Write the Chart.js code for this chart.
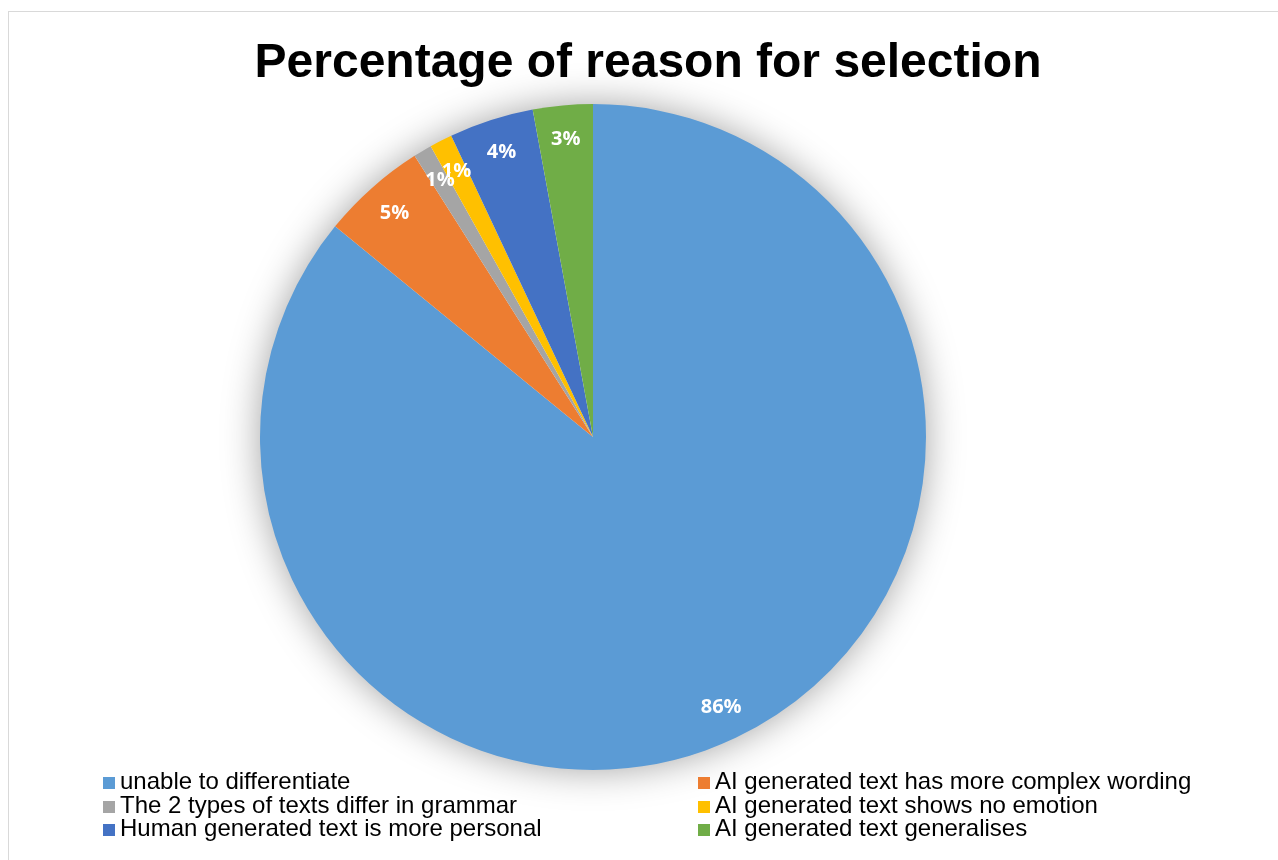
<!DOCTYPE html>
<html lang="en">
<head>
    <meta charset="UTF-8">
    <title>Percentage of reason for selection</title>
    <script src="https://cdn.jsdelivr.net/npm/chart.js"></script>
    <style>
        html, body { margin: 0; padding: 0; background: #fff; overflow: hidden; width: 1278px; height: 860px; }
        #frame { position: absolute; left: 8px; top: 11px; width: 1300px; height: 900px; border: 1px solid #d9d9d9; }
        #chart { position: absolute; left: 9px; top: 11px; }
    </style>
</head>
<body>
    <div id="frame"></div>
    <canvas id="chart" width="1278" height="860"></canvas>
    <script>
        const chartTitle = 'Percentage of reason for selection';
        const reasons = [
            'unable to differentiate',
            'AI generated text has more complex wording',
            'The 2 types of texts differ in grammar',
            'AI generated text shows no emotion',
            'Human generated text is more personal',
            'AI generated text generalises'
        ];
        const shares = [85.9, 5.1, 0.9, 1.1, 4.1, 2.9];
        const colors = ['#5B9BD5', '#ED7D31', '#A5A5A5', '#FFC000', '#4472C4', '#70AD47'];

        // title across the full width (the built-in one gets squeezed by the layout padding)
        const wideTitle = {
            id: 'wideTitle',
            afterDraw(chart) {
                const ctx = chart.ctx;
                ctx.save();
                ctx.font = 'bold 48px "Liberation Sans", Arial, sans-serif';
                ctx.fillStyle = '#000';
                ctx.textAlign = 'center';
                ctx.textBaseline = 'alphabetic';
                ctx.fillText(chartTitle, chart.width / 2, 66);
                ctx.restore();
            }
        };

        // soft shadow behind the whole pie
        const pieShadow = {
            id: 'pieShadow',
            beforeDatasetsDraw(chart) {
                const arc = chart.getDatasetMeta(0).data[0];
                if (!arc) return;
                const ctx = chart.ctx;
                ctx.save();
                ctx.shadowColor = 'rgba(0, 0, 0, 0.38)';
                ctx.shadowBlur = 38;
                ctx.fillStyle = '#fff';
                ctx.beginPath();
                ctx.arc(arc.x, arc.y, arc.outerRadius - 1, 0, Math.PI * 2);
                ctx.fill();
                ctx.restore();
            }
        };

        // percentage labels near the outer edge of each slice
        const sliceLabels = {
            id: 'sliceLabels',
            afterDatasetsDraw(chart) {
                const ctx = chart.ctx;
                const values = chart.data.datasets[0].data;
                const total = values.reduce((a, b) => a + b, 0);
                ctx.save();
                ctx.font = 'bold 20px "Open Sans", sans-serif';
                ctx.fillStyle = '#fff';
                ctx.textAlign = 'center';
                ctx.textBaseline = 'middle';
                chart.getDatasetMeta(0).data.forEach((arc, i) => {
                    const mid = (arc.startAngle + arc.endAngle) / 2;
                    const r = arc.outerRadius - 34;
                    const x = arc.x + Math.cos(mid) * r;
                    const y = arc.y + Math.sin(mid) * r;
                    ctx.fillText(Math.round(values[i] / total * 100) + '%', x, y);
                });
                ctx.restore();
            }
        };

        // two-column legend at the bottom
        const gridLegend = {
            id: 'gridLegend',
            afterDraw(chart) {
                const ctx = chart.ctx;
                const cols = [94, 689];
                const rows = [778, 802, 825];
                ctx.save();
                ctx.font = '24px "Liberation Sans", Arial, sans-serif';
                ctx.textBaseline = 'alphabetic';
                ctx.textAlign = 'left';
                chart.data.labels.forEach((label, i) => {
                    const x = cols[i % 2];
                    const y = rows[Math.floor(i / 2)];
                    ctx.fillStyle = chart.data.datasets[0].backgroundColor[i];
                    ctx.fillRect(x, y - 12, 12, 12);
                    ctx.fillStyle = '#000';
                    ctx.fillText(label, x + 17, y);
                });
                ctx.restore();
            }
        };

        new Chart(document.getElementById('chart'), {
            type: 'pie',
            data: {
                labels: reasons,
                datasets: [{
                    data: shares,
                    backgroundColor: colors,
                    borderWidth: 0
                }]
            },
            options: {
                responsive: false,
                animation: false,
                layout: { padding: { left: 251, right: 361, top: 93, bottom: 101 } },
                plugins: {
                    legend: { display: false },
                    tooltip: { enabled: false },
                    title: { display: false }
                }
            },
            plugins: [pieShadow, sliceLabels, gridLegend, wideTitle]
        });
    </script>
</body>
</html>
